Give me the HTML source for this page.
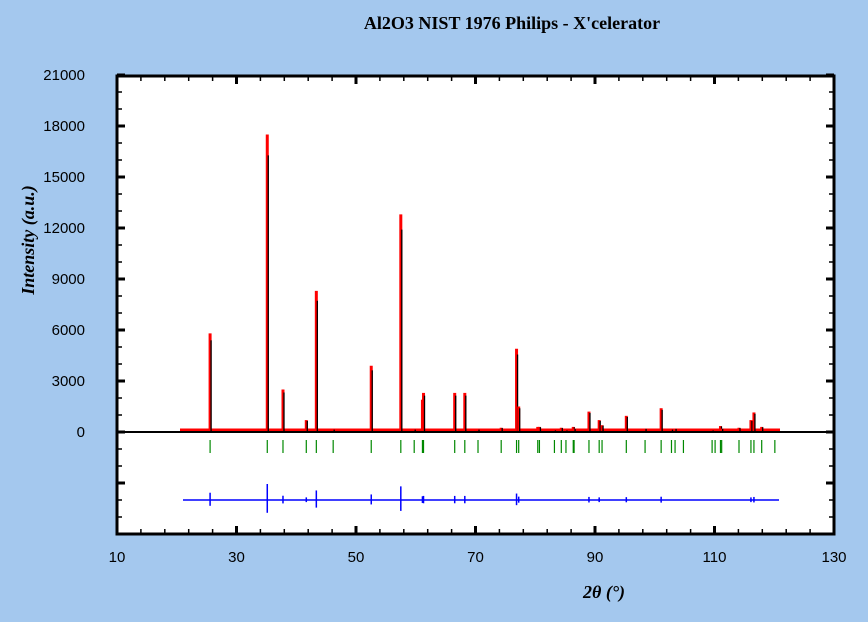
<!DOCTYPE html>
<html><head><meta charset="utf-8"><style>
html,body{margin:0;padding:0;background:#a4c8ee;}
svg{display:block}
</style></head><body>
<svg id="s" width="868" height="622" xmlns="http://www.w3.org/2000/svg">
<rect width="868" height="622" fill="#a4c8ee"/>
<text x="512" y="29" text-anchor="middle" font-family="Liberation Serif, serif" font-weight="bold" font-size="18">Al2O3 NIST 1976 Philips - X'celerator</text>
<rect x="117" y="76" width="717" height="458" fill="#fff" stroke="#000" stroke-width="3"/>
<g id="g"></g>
<text transform="translate(34,240) rotate(-90)" text-anchor="middle" font-family="Liberation Serif, serif" font-weight="bold" font-style="italic" font-size="18">Intensity (a.u.)</text>
<text x="604" y="598" text-anchor="middle" font-family="Liberation Serif, serif" font-weight="bold" font-style="italic" font-size="18">2θ (°)</text>
</svg>
<script>
var g=document.getElementById('g'),h='';
function X(v){return 117+(v-10)*5.975;}
function Y(v){return 432-v*51/3000;}
for(var v=-6000;v<=21000;v+=1000){var y=Y(v),maj=v%3000==0;
 h+='<line x1="117" x2="'+(117+(maj?8:5))+'" y1="'+y+'" y2="'+y+'" stroke="#000" stroke-width="'+(maj?3:1.5)+'"/>';
 h+='<line x1="834" x2="'+(834-(maj?8:5))+'" y1="'+y+'" y2="'+y+'" stroke="#000" stroke-width="'+(maj?3:1.5)+'"/>';
 if(maj&&v>=0)h+='<text x="85" y="'+(y+5)+'" text-anchor="end" font-family="Liberation Sans, sans-serif" font-size="15">'+v+'</text>';}
for(var v=10;v<=130;v+=4){var x=X(v),maj=(v-10)%20==0;
 h+='<line x1="'+x+'" x2="'+x+'" y1="534" y2="'+(534-(maj?8:5))+'" stroke="#000" stroke-width="'+(maj?3:1.5)+'"/>';
 h+='<line x1="'+x+'" x2="'+x+'" y1="76" y2="'+(76+(maj?8:5))+'" stroke="#000" stroke-width="'+(maj?3:1.5)+'"/>';
 if(maj)h+='<text x="'+x+'" y="562" text-anchor="middle" font-family="Liberation Sans, sans-serif" font-size="15">'+v+'</text>';}
var P=[[25.58,5800],[35.15,17500],[37.78,2500],[41.68,700],[43.36,8300],[46.18,150],[52.55,3900],[57.5,12800],[59.74,150],[61.12,1900],[61.3,2300],[66.52,2300],[68.21,2300],[70.42,150],[74.3,250],[76.87,4900],[77.23,1500],[80.42,300],[80.7,300],[83.21,100],[84.36,250],[85.14,100],[86.36,300],[86.5,200],[88.99,1200],[90.7,700],[91.18,400],[95.24,950],[98.38,200],[101.07,1400],[102.8,150],[103.4,200],[104.8,60],[109.6,100],[110.1,60],[111.0,350],[111.2,200],[114.1,250],[116.1,700],[116.6,1150],[117.9,300],[120.1,30]];
h+='<line x1="180" x2="780" y1="430.5" y2="430.5" stroke="#f00" stroke-width="4"/>';
h+='<line x1="183" x2="779" y1="500" y2="500" stroke="#00f" stroke-width="1.5"/>';
P.forEach(function(p){var x=X(p[0]),t=Y(p[1]);
 h+='<line x1="'+x+'" x2="'+x+'" y1="431" y2="'+t+'" stroke="#f00" stroke-width="3"/>';
 h+='<line x1="'+(x+1)+'" x2="'+(x+1)+'" y1="432" y2="'+Y(p[1]*0.93)+'" stroke="#000" stroke-width="1.3"/>';
 h+='<line x1="'+x+'" x2="'+x+'" y1="440" y2="453" stroke="#080" stroke-width="1.2"/>';
 var d=Math.min(16,2+p[1]/1100);
 if(p[1]>500)h+='<line x1="'+x+'" x2="'+x+'" y1="'+(500-d)+'" y2="'+(500+d*0.8)+'" stroke="#00f" stroke-width="1.5"/>';
});
h+='<line x1="117" x2="834" y1="432" y2="432" stroke="#000" stroke-width="2"/>';
g.innerHTML=h;
</script>
</body></html>
